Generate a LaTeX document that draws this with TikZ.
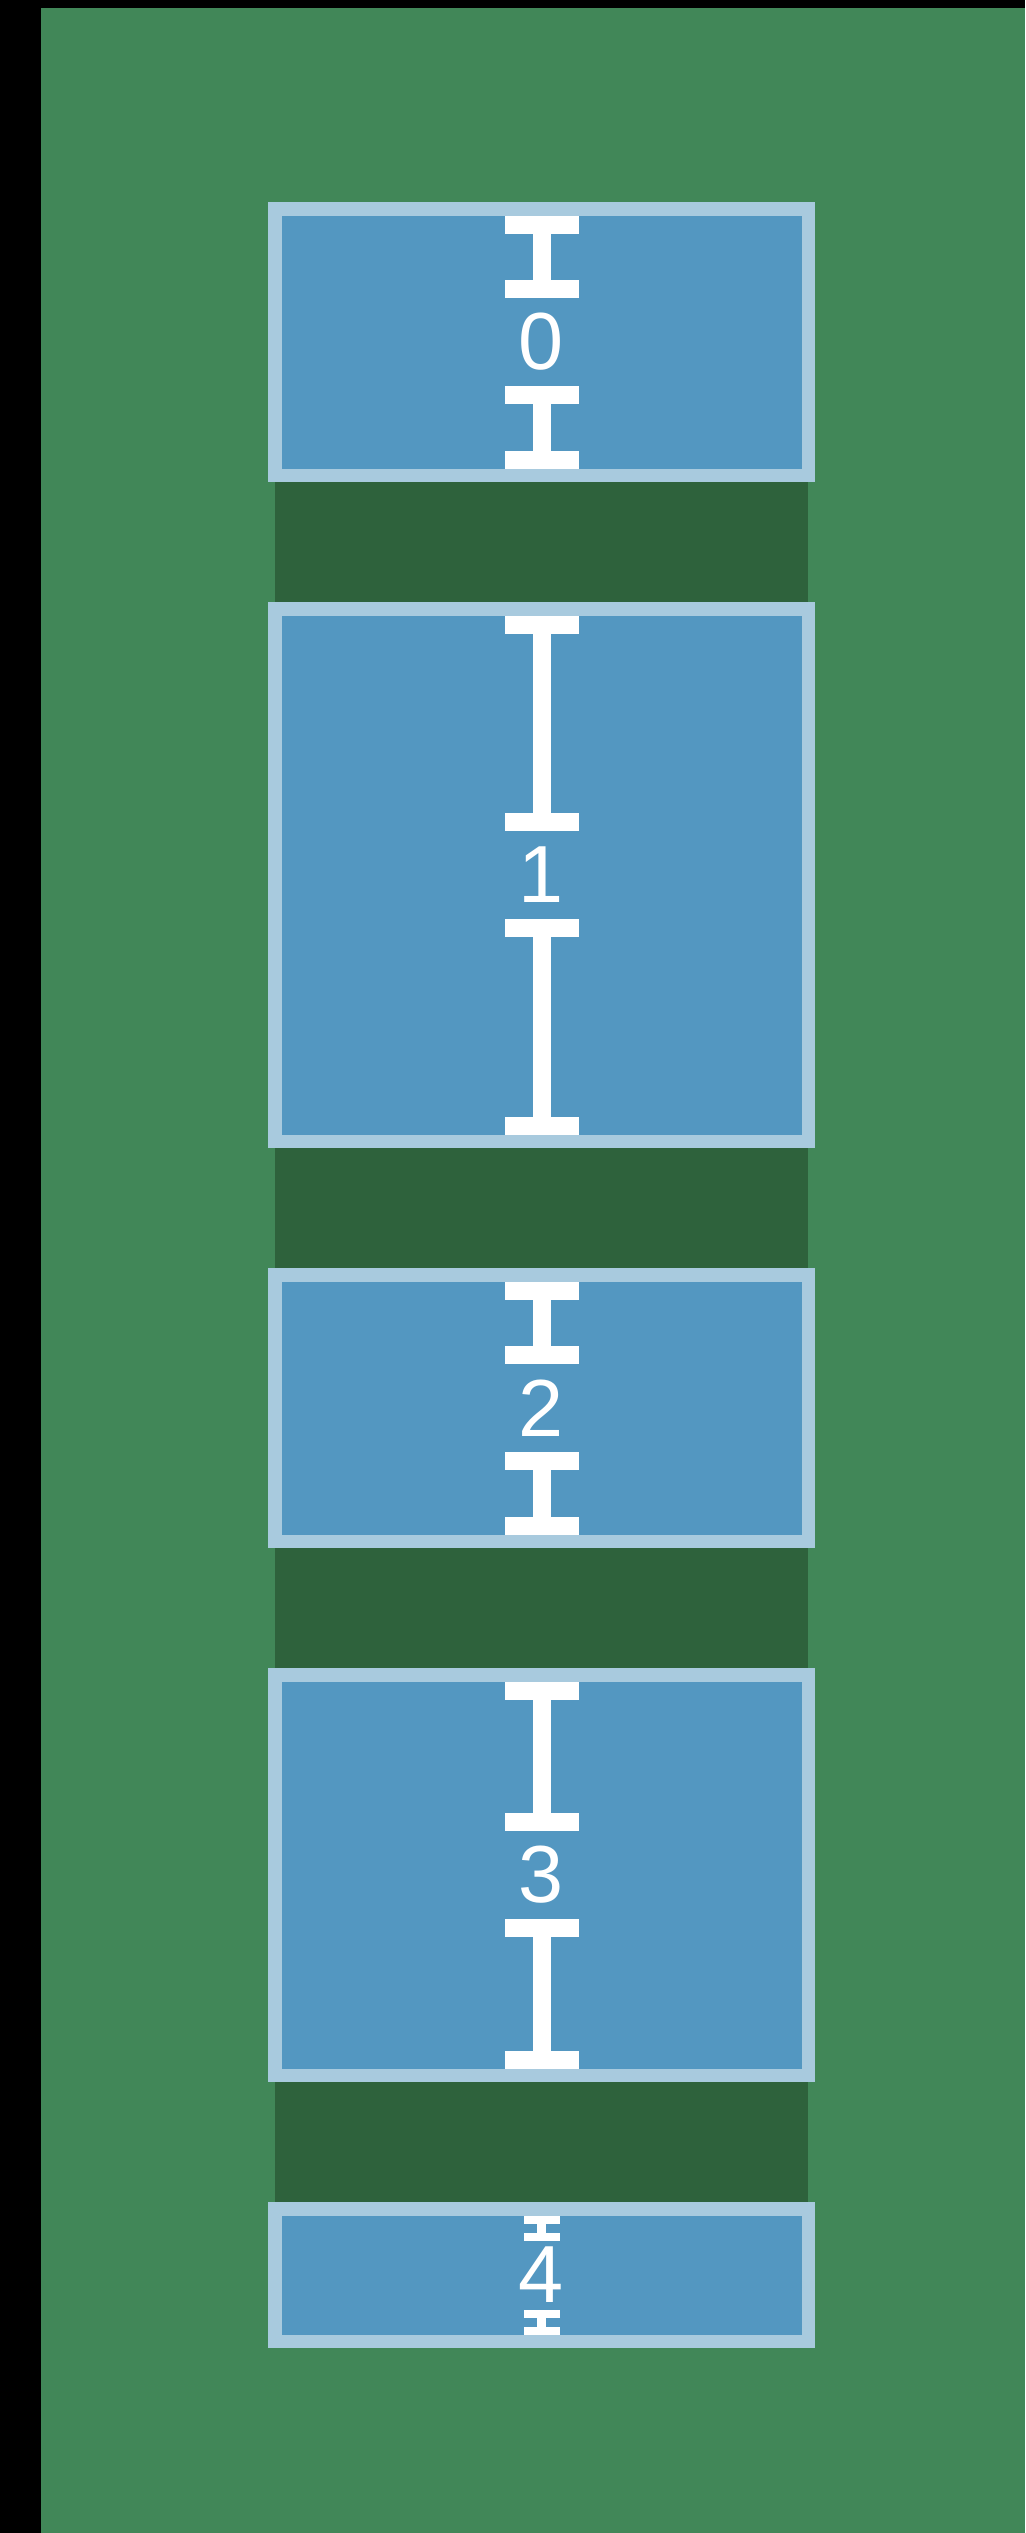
\documentclass[tikz,border=0pt]{standalone}
\usepackage{fontspec}
\setmainfont{Liberation Sans}
\usepackage{tikz}
\usetikzlibrary{calc,backgrounds}

\definecolor{pagegreen}{HTML}{418758}
\definecolor{gapgreen}{HTML}{2E623C}
\definecolor{boxblue}{HTML}{5397C1}
\definecolor{boxedge}{HTML}{A8CADE}

% I-beam between two coordinates: from, to, half flange, flange thickness, half stem
\newcommand{\ibeam}[5]{%
  \fill[white] ($(#1)+(-#3,0)$) rectangle ($(#1)+(#3,#4)$);
  \fill[white] ($(#1)+(-#5,0)$) rectangle ($(#2)+(#5,0)$);
  \fill[white] ($(#2)+(-#3,-#4)$) rectangle ($(#2)+(#3,0)$);
}

\begin{document}
\begin{tikzpicture}[
    x=0.5pt, y=-0.5pt,
    box/.style={draw=boxedge, fill=boxblue, line width=6.75pt, minimum width=266.75pt,
      inner sep=0pt, outer sep=0pt, text=white, font=\fontsize{40.5}{48}\selectfont}
]
\useasboundingbox (0,0) rectangle (1025,2533);

\foreach \n/\cy/\h in {0/342/133.25pt, 1/875/266.25pt, 2/1408/133.25pt, 3/1875/200.25pt, 4/2275/66.25pt}
  \node[box, minimum height=\h] (box\n) at (541.5,\cy) {\n};

% markers inside the boxes
\foreach \n in {0,...,3} {
  \coordinate (top\n) at ($(box\n.north)+(0,6.75)$);
  \coordinate (upper\n) at ($(box\n.center)+(0,-44)$);
  \coordinate (lower\n) at ($(box\n.center)+(0,44)$);
  \coordinate (bot\n) at ($(box\n.south)+(0,-6.75)$);
  \ibeam{top\n}{upper\n}{37}{18}{9}
  \ibeam{lower\n}{bot\n}{37}{18}{9}
}
\coordinate (top4) at ($(box4.north)+(0,6.75)$);
\coordinate (upper4) at ($(box4.center)+(0,-34)$);
\coordinate (lower4) at ($(box4.center)+(0,35)$);
\coordinate (bot4) at ($(box4.south)+(0,-6.75)$);
\ibeam{top4}{upper4}{18}{8}{4.5}
\ibeam{lower4}{bot4}{18}{8}{4.5}

\begin{scope}[on background layer]
  \fill[black] (0,0) rectangle (1025,2533);
  \fill[pagegreen] (41,8) rectangle (1025,2533);
  \fill[gapgreen] (box0.south west) rectangle (box4.north east);
\end{scope}
\end{tikzpicture}
\end{document}
